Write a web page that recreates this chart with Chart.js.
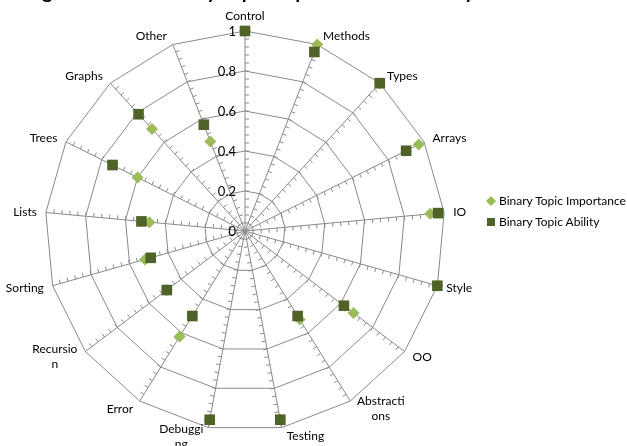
<!DOCTYPE html>
<html>
<head>
<meta charset="utf-8">
<script src="https://cdn.jsdelivr.net/npm/chart.js@4"></script>
<style>
    html, body { margin: 0; padding: 0; background: #fff; overflow: hidden; }
    #wrap { position: relative; width: 627px; height: 446px; overflow: hidden; }
    #title { position: absolute; left: 28px; top: -22px; font: bold 20px Lato, sans-serif; line-height: 24px; color: #000; white-space: nowrap; }
    #legend { position: absolute; left: 484px; top: 193px; font: 12px Lato, sans-serif; color: #000; }
    #legend .item { height: 21px; line-height: 16px; position: relative; padding-left: 15px; }
    #legend .mark { position: absolute; left: 3px; top: 4px; width: 8px; height: 8px; }
    #legend .diamond { background: #9bbb59; transform: rotate(45deg) scale(0.9); }
    #legend .square { background: #4f6228; }
</style>
</head>
<body>
<div id="wrap">
    <canvas id="radar-chart" width="627" height="446"></canvas>
    <div id="title">Agreement on Binary Topic Importance and Ability</div>
    <div id="legend">
        <div class="item"><span class="mark diamond"></span>Binary Topic Importance</div>
        <div class="item"><span class="mark square"></span>Binary Topic Ability</div>
    </div>
</div>
<script>
// categorias (las que Excel parte en dos lineas van como array)
const categories = ['Control', 'Methods', 'Types', 'Arrays', 'IO', 'Style', 'OO',
    ['Abstracti', 'ons'], 'Testing', ['Debuggi', 'ng'], 'Error', ['Recursio', 'n'],
    'Sorting', 'Lists', 'Trees', 'Graphs', 'Other'];

const importance = [1.0, 1.0, 1.0, 0.97, 0.93, 1.0, 0.68, 0.52, 0.96, 0.96, 0.62, 0.49, 0.52, 0.48, 0.60, 0.69, 0.48];
const ability    = [1.0, 0.96, 1.0, 0.90, 0.97, 1.0, 0.62, 0.50, 0.96, 0.96, 0.50, 0.49, 0.49, 0.52, 0.74, 0.79, 0.57];

const tickValues = [0, 0.2, 0.4, 0.6, 0.8, 1];
const tickLabels = ['0', '0.2', '0.4', '0.6', '0.8', '1'];

const gridColor = '#8a8a8a';
const labelFont = '12px Lato, sans-serif';

// Marcas menores en cada radio, hacia el lado horario
const minorTicksPlugin = {
    id: 'minorTicks',
    beforeDatasetsDraw(chart) {
        const scale = chart.scales.r;
        const ctx = chart.ctx;
        ctx.save();
        ctx.strokeStyle = gridColor;
        ctx.lineWidth = 1;
        ctx.beginPath();
        for (let i = 0; i < categories.length; i++) {
            const a = scale.getIndexAngle(i) - Math.PI / 2;
            const px = -Math.sin(a), py = Math.cos(a);
            for (let k = 1; k < 25; k++) {
                const p = scale.getPointPositionForValue(i, k * 0.04);
                ctx.moveTo(p.x, p.y);
                ctx.lineTo(p.x + px * 4, p.y + py * 4);
            }
        }
        ctx.stroke();
        ctx.restore();
    }
};

// Etiquetas de eje y de categoria al estilo Excel
const labelsPlugin = {
    id: 'excelLabels',
    afterDraw(chart) {
        const scale = chart.scales.r;
        const ctx = chart.ctx;
        ctx.save();
        ctx.fillStyle = '#000';
        ctx.font = '13px Lato, sans-serif';
        ctx.textAlign = 'right';
        ctx.textBaseline = 'middle';
        tickValues.forEach((v, idx) => {
            const p = scale.getPointPositionForValue(0, v);
            ctx.fillText(tickLabels[idx], scale.xCenter - 9, p.y + 1);
        });

        ctx.font = labelFont;
        const lineH = 15;
        categories.forEach((label, i) => {
            const lines = Array.isArray(label) ? label : [label];
            const theta = scale.getIndexAngle(i);
            const s = Math.sin(theta), c = Math.cos(theta);
            const v = scale.getPointPositionForValue(i, 1);
            const w = Math.max(...lines.map(l => ctx.measureText(l).width));
            let cx, cy;
            if (Math.abs(s) < 0.05) {
                cx = v.x;
                cy = v.y - 15 * c;
            } else {
                const off = 4 + 5 * Math.abs(s);
                cx = s > 0 ? v.x + off + w / 2 : v.x - off - w / 2;
                cy = v.y - 9 * c;
            }
            ctx.textAlign = 'center';
            const top = cy - (lines.length - 1) * lineH / 2;
            lines.forEach((l, j) => ctx.fillText(l, cx, top + j * lineH));
        });
        ctx.restore();
    }
};

const ctx = document.getElementById('radar-chart').getContext('2d');
new Chart(ctx, {
    type: 'radar',
    data: {
        labels: categories,
        datasets: [{
            label: 'Binary Topic Importance',
            data: importance,
            showLine: false,
            fill: false,
            borderWidth: 0,
            pointStyle: 'rectRot',
            pointRadius: 6,
            pointBorderWidth: 0,
            pointBackgroundColor: '#9bbb59',
            pointBorderColor: '#9bbb59',
            order: 1
        }, {
            label: 'Binary Topic Ability',
            data: ability,
            showLine: false,
            fill: false,
            borderWidth: 0,
            pointStyle: 'rect',
            pointRadius: 7.5,
            pointBorderWidth: 0,
            pointBackgroundColor: '#4f6228',
            pointBorderColor: '#4f6228',
            order: 0
        }]
    },
    options: {
        responsive: false,
        animation: false,
        layout: { padding: { left: 45, top: 31, right: 182, bottom: 15 } },
        plugins: {
            legend: { display: false },
            tooltip: { enabled: false }
        },
        scales: {
            r: {
                min: 0,
                max: 1,
                ticks: { stepSize: 0.2, display: false },
                grid: { color: gridColor, lineWidth: 1 },
                angleLines: { color: gridColor, lineWidth: 1 },
                pointLabels: { display: false }
            }
        }
    },
    plugins: [minorTicksPlugin, labelsPlugin]
});
</script>
</body>
</html>
